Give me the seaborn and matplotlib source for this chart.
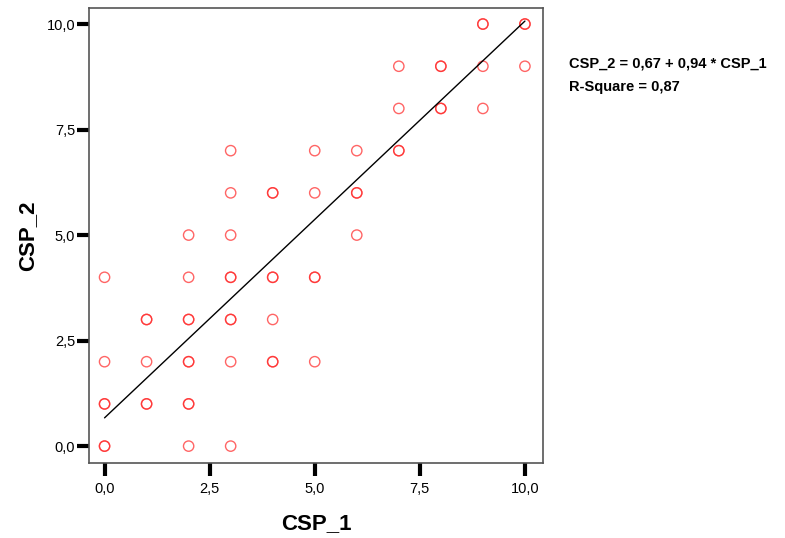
import numpy as np
import pandas as pd
import matplotlib
matplotlib.use("Agg")
import matplotlib.pyplot as plt
import seaborn as sns
from matplotlib.ticker import FuncFormatter

# Observed (CSP_1, CSP_2) pairs; repeated pairs appear as darker circles
csp_1 = [0, 0, 0, 0, 0, 0,
         1, 1, 1, 1, 1,
         2, 2, 2, 2, 2, 2, 2, 2, 2,
         3, 3, 3, 3, 3, 3, 3, 3, 3,
         4, 4, 4, 4, 4, 4, 4,
         5, 5, 5, 5, 5,
         6, 6, 6, 6,
         7, 7, 7, 7,
         8, 8, 8, 8,
         9, 9, 9, 9,
         10, 10, 10]
csp_2 = [0, 0, 1, 1, 2, 4,
         1, 1, 2, 3, 3,
         0, 1, 1, 2, 2, 3, 3, 4, 5,
         0, 2, 3, 3, 4, 4, 5, 6, 7,
         2, 2, 3, 4, 4, 6, 6,
         2, 4, 4, 6, 7,
         5, 6, 6, 7,
         7, 7, 8, 9,
         8, 8, 9, 9,
         8, 9, 10, 10,
         9, 10, 10]

intercept = 0.67
slope = 0.94
r_square = 0.87
x_ticks = [0, 2.5, 5, 7.5, 10]
y_ticks = [0, 2.5, 5, 7.5, 10]

df = pd.DataFrame({"CSP_1": csp_1, "CSP_2": csp_2})

sns.set_theme(style="white")
plt.rcParams['font.family'] = ['Liberation Sans', 'DejaVu Sans']
plt.rcParams['text.color'] = 'black'
plt.rcParams['axes.labelcolor'] = 'black'
plt.rcParams['xtick.color'] = 'black'
plt.rcParams['ytick.color'] = 'black'

fig = plt.figure(figsize=(7.85, 5.38), dpi=100)
ax = fig.add_axes([89/785, 1-463/538, (543-89)/785, (463-8)/538])

sns.scatterplot(data=df, x="CSP_1", y="CSP_2", ax=ax, marker="o", s=55,
                facecolors="none", edgecolor="#ff2a2a", linewidth=1.0,
                alpha=0.72, legend=False)

xl = np.array([min(csp_1), max(csp_1)], dtype=float)
sns.lineplot(x=xl, y=intercept + slope * xl, ax=ax, color="black", linewidth=1.0)

ax.set_xlim(-0.37, 10.43)
ax.set_ylim(-0.40, 10.38)
ax.set_xticks(x_ticks)
ax.set_yticks(y_ticks)
fmt = FuncFormatter(lambda v, p: f"{v:.1f}".replace(".", ","))
ax.xaxis.set_major_formatter(fmt)
ax.yaxis.set_major_formatter(fmt)
ax.tick_params(axis="both", direction="out", length=9, width=3, color="black",
               labelcolor="black", labelsize=10.5, bottom=True, left=True)
ax.tick_params(axis="y", pad=1)
ax.tick_params(axis="x", pad=5)

for sp in ax.spines.values():
    sp.set_visible(True)
    sp.set_color("#555555")
    sp.set_linewidth(1.2)

ax.set_xlabel("CSP_1", fontsize=16, fontweight="bold", labelpad=12, color="black")
ax.set_ylabel("CSP_2", fontsize=16, fontweight="bold", labelpad=6, color="black")

fig.text(569/785, 1-64/538,
         f"CSP_2 = {intercept:.2f} + {slope:.2f} * CSP_1".replace(".", ","),
         fontsize=10.5, fontweight="bold", va="center", ha="left", color="black")
fig.text(569/785, 1-87/538, f"R-Square = {r_square:.2f}".replace(".", ","),
         fontsize=10.5, fontweight="bold", va="center", ha="left", color="black")

fig.savefig("out.png", dpi=100)
